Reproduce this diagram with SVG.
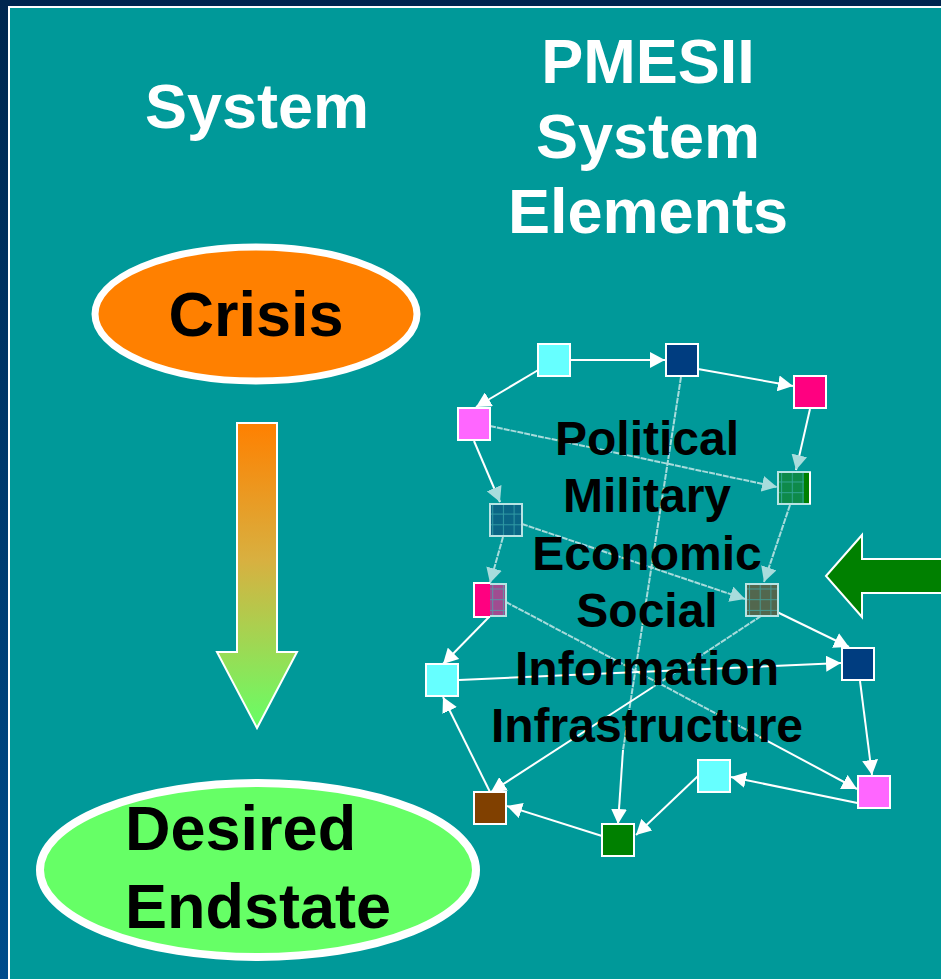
<svg xmlns="http://www.w3.org/2000/svg" width="941" height="979" viewBox="0 0 941 979">
<defs>
<linearGradient id="navy" x1="0" y1="0" x2="0" y2="1">
<stop offset="0" stop-color="#00264f"/>
<stop offset="1" stop-color="#004c8c"/>
</linearGradient>
<linearGradient id="flow" x1="0" y1="423" x2="0" y2="728" gradientUnits="userSpaceOnUse">
<stop offset="0" stop-color="#ff8000"/>
<stop offset="0.45" stop-color="#d8b040"/>
<stop offset="1" stop-color="#66ff66"/>
</linearGradient>
<pattern id="grid" width="10.7" height="10.7" patternUnits="userSpaceOnUse">
<path d="M0,0.5 H10.7 M0.5,0 V10.7" stroke="#40b0b0" stroke-width="1" opacity="0.7"/>
</pattern>
<marker id="ah" markerUnits="userSpaceOnUse" markerWidth="16" markerHeight="16" refX="15" refY="8" orient="auto">
<path d="M0,0 L15,8 L0,16 z" fill="#ffffff"/>
</marker>
<marker id="ahf" markerUnits="userSpaceOnUse" markerWidth="16" markerHeight="16" refX="15" refY="8" orient="auto">
<path d="M0,0 L15,8 L0,16 z" fill="#a8dcdc"/>
</marker>
</defs>
<style>
.bg{fill:#009999}
.title{font-family:"Liberation Sans",Arial,sans-serif;font-weight:bold;font-size:63px;fill:#ffffff;text-anchor:middle}
.big{font-family:"Liberation Sans",Arial,sans-serif;font-weight:bold;font-size:63px;fill:#000000}
.list{font-family:"Liberation Sans",Arial,sans-serif;font-weight:bold;font-size:48px;fill:#000000;text-anchor:middle}
.e{stroke:#ffffff;stroke-width:2;fill:none}
.ef{stroke:#a8dcdc;stroke-width:2;fill:none;stroke-dasharray:6 1}
.n{stroke:#ffffff;stroke-width:2}
.np{stroke:#b8e4e4;stroke-width:2}
</style>
<rect x="0" y="0" width="941" height="979" fill="url(#navy)"/>
<rect x="8" y="6" width="933" height="973" fill="#ffffff"/>
<rect x="10" y="8" width="931" height="971" class="bg"/>

<g id="titles">
<text class="title" x="257" y="128">System</text>
<text class="title" x="648" y="83">PMESII</text>
<text class="title" x="648" y="158">System</text>
<text class="title" x="648" y="233">Elements</text>
</g>

<g id="crisis">
<ellipse cx="256" cy="314" rx="161" ry="67" fill="#ff8000" stroke="#ffffff" stroke-width="7"/>
<text class="big" x="256" y="336" text-anchor="middle">Crisis</text>
</g>

<g id="flow-arrow">
<path d="M237,423 H277 V652 H297 L257,728 L217,652 H237 Z" fill="url(#flow)" stroke="#ffffff" stroke-width="2"/>
</g>

<g id="endstate">
<ellipse cx="258" cy="870" rx="218" ry="87" fill="#66ff66" stroke="#ffffff" stroke-width="8"/>
<text class="big" x="125" y="850">Desired</text>
<text class="big" x="125" y="928">Endstate</text>
</g>

<g id="input-arrow">
<path d="M826,576 L862,535 V559 H945 V593 H862 V617 Z" fill="#008000" stroke="#ffffff" stroke-width="2"/>
</g>

<g id="connectors">
<line class="e" x1="571" y1="360" x2="665" y2="360" marker-end="url(#ah)"/>
<line class="e" x1="698" y1="369" x2="793" y2="386" marker-end="url(#ah)"/>
<line class="e" x1="540" y1="369" x2="476" y2="407" marker-end="url(#ah)"/>
<line class="ef" x1="490" y1="426" x2="777" y2="487" marker-end="url(#ahf)"/>
<line class="e" x1="810" y1="409" x2="796" y2="470" marker-end="url(#ahf)"/>
<line class="e" x1="474" y1="441" x2="500" y2="502" marker-end="url(#ahf)"/>
<line class="ef" x1="503" y1="537" x2="490" y2="583" marker-end="url(#ahf)"/>
<line class="ef" x1="522" y1="524" x2="745" y2="599" marker-end="url(#ahf)"/>
<line class="ef" x1="790" y1="505" x2="764" y2="582" marker-end="url(#ahf)"/>
<line class="ef" x1="681" y1="377" x2="623" y2="750"/>
<line class="e" x1="623" y1="750" x2="618" y2="824" marker-end="url(#ah)"/>
<line class="ef" x1="506" y1="602" x2="760" y2="737"/>
<line class="e" x1="760" y1="737" x2="857" y2="789" marker-end="url(#ah)"/>
<line class="ef" x1="761" y1="616" x2="653" y2="687"/>
<line class="e" x1="653" y1="687" x2="491" y2="792" marker-end="url(#ah)"/>
<line class="e" x1="777" y1="612" x2="849" y2="647" marker-end="url(#ah)"/>
<line class="e" x1="459" y1="680" x2="841" y2="663" marker-end="url(#ah)"/>
<line class="e" x1="490" y1="616" x2="443" y2="664" marker-end="url(#ah)"/>
<line class="e" x1="860" y1="681" x2="872" y2="775" marker-end="url(#ah)"/>
<line class="e" x1="872" y1="806" x2="731" y2="777" marker-end="url(#ah)"/>
<line class="e" x1="698" y1="776" x2="636" y2="835" marker-end="url(#ah)"/>
<line class="e" x1="602" y1="836" x2="507" y2="806" marker-end="url(#ah)"/>
<line class="e" x1="490" y1="792" x2="443" y2="697" marker-end="url(#ah)"/>
</g>

<g id="list-text">
<text class="list" x="647" y="455">Political</text>
<text class="list" x="647" y="512">Military</text>
<text class="list" x="647" y="570">Economic</text>
<text class="list" x="647" y="627">Social</text>
<text class="list" x="647" y="685">Information</text>
<text class="list" x="647" y="742">Infrastructure</text>
</g>

<g id="n1"><rect class="n" x="538" y="344" width="32" height="32" fill="#66ffff"/></g>
<g id="n2"><rect class="n" x="666" y="344" width="32" height="32" fill="#003d80"/></g>
<g id="n3"><rect class="n" x="794" y="376" width="32" height="32" fill="#ff0080"/></g>
<g id="n4"><rect class="n" x="458" y="408" width="32" height="32" fill="#ff66ff"/></g>
<g id="n5"><rect x="778" y="472" width="32" height="32" fill="#008000"/><rect x="778" y="472" width="26" height="32" fill="#0e8a4a"/><rect x="778" y="472" width="26" height="32" fill="url(#grid)"/><rect class="np" x="778" y="472" width="32" height="32" fill="none"/><line x1="810" y1="472" x2="810" y2="504" stroke="#ffffff" stroke-width="2"/></g>
<g id="n6"><rect x="490" y="504" width="32" height="32" fill="#0b6685"/><rect x="490" y="504" width="32" height="32" fill="url(#grid)"/><rect class="np" x="490" y="504" width="32" height="32" fill="none"/></g>
<g id="n7"><rect x="474" y="584" width="32" height="32" fill="#a04c90"/><rect x="490" y="584" width="16" height="32" fill="url(#grid)"/><rect x="474" y="584" width="16" height="32" fill="#ff0080"/><path d="M490,583 H474 V617 H490" class="n" fill="none"/><path d="M490,584 H506 V616 H490" class="np" fill="none"/></g>
<g id="n8"><rect x="746" y="584" width="32" height="32" fill="#52674e"/><rect x="746" y="584" width="32" height="32" fill="url(#grid)"/><rect class="np" x="746" y="584" width="32" height="32" fill="none"/></g>
<g id="n9"><rect class="n" x="842" y="648" width="32" height="32" fill="#003d80"/></g>
<g id="n10"><rect class="n" x="426" y="664" width="32" height="32" fill="#66ffff"/></g>
<g id="n11"><rect class="n" x="698" y="760" width="32" height="32" fill="#66ffff"/></g>
<g id="n12"><rect class="n" x="858" y="776" width="32" height="32" fill="#ff66ff"/></g>
<g id="n13"><rect class="n" x="474" y="792" width="32" height="32" fill="#804000"/></g>
<g id="n14"><rect class="n" x="602" y="824" width="32" height="32" fill="#008000"/></g>
</svg>
